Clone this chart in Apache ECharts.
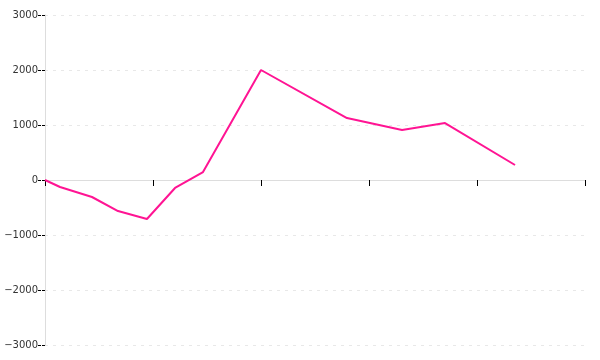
<!DOCTYPE html>
<html>
<head>
<meta charset="utf-8">
<script src="https://cdn.jsdelivr.net/npm/echarts@6/dist/echarts.min.js"></script>
<style>html,body{margin:0;padding:0;background:#fff}#c{width:600px;height:360px}</style>
</head>
<body>
<div id="c"></div>
<script>
const xValues = [0, 0.139, 0.435, 0.676, 0.944, 1.204, 1.463, 2.0, 2.796, 3.306, 3.704, 4.352];
const yValues = [0, -127, -309, -564, -709, -145, 145, 2000, 1127, 909, 1036, 273];
const yTicks = [-3000, -2000, -1000, 0, 1000, 2000, 3000];

const data = xValues.map((x, i) => [x, yValues[i]]);
const chart = echarts.init(document.getElementById('c'));
chart.setOption({
  animation: false,
  grid: { left: 45, right: 15, top: 15, bottom: 15 },
  xAxis: {
    type: 'value', min: 0, max: 5, interval: 1,
    axisLine: { onZero: true, lineStyle: { color: '#dddddd', width: 1 } },
    axisTick: { show: true, length: 6, lineStyle: { color: '#000' } },
    axisLabel: { show: false },
    splitLine: { show: false }
  },
  yAxis: {
    type: 'value', min: yTicks[0], max: yTicks[yTicks.length - 1], interval: 1000,
    axisLine: { show: true, lineStyle: { color: '#dddddd', width: 1 } },
    axisTick: { show: true, length: 7, lineStyle: { color: '#000', type: [3, 1] } },
    axisLabel: {
      margin: 7, fontFamily: 'DejaVu Sans', fontSize: 10, color: '#333',
      formatter: v => (v < 0 ? '\u2212' + Math.abs(v) : String(v))
    },
    splitLine: { show: true, lineStyle: { color: '#e8e8e8', type: [3, 5] } }
  },
  series: [{
    type: 'line',
    data: data,
    showSymbol: false,
    lineStyle: { color: '#ff1493', width: 2 },
    itemStyle: { color: '#ff1493' }
  }]
});
</script>
</body>
</html>
